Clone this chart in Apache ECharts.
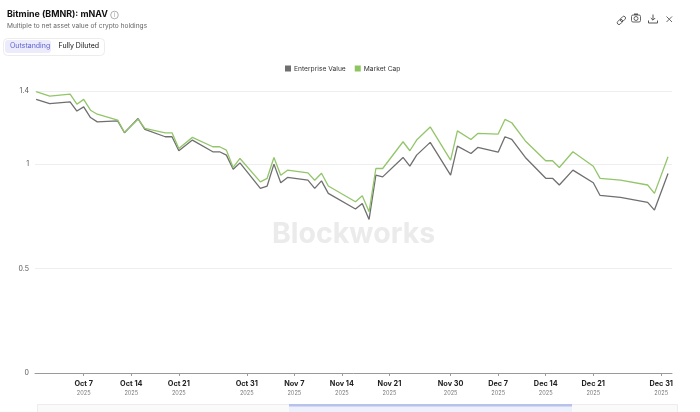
<!DOCTYPE html>
<html>
<head>
<meta charset="utf-8">
<title>Bitmine (BMNR): mNAV</title>
<script src="https://cdn.jsdelivr.net/npm/echarts@6/dist/echarts.min.js"></script>
<style>
  html, body { margin: 0; padding: 0; background: #fff; }
  #chart { width: 700px; height: 412px; }
</style>
</head>
<body>
<div id="chart"></div>
<script>
// vertices (daily points where the line turns)
var dates = ['2025-09-30','2025-10-02','2025-10-05','2025-10-06','2025-10-07','2025-10-08','2025-10-09','2025-10-12','2025-10-13','2025-10-15',
  '2025-10-16','2025-10-19','2025-10-20','2025-10-21','2025-10-23','2025-10-26','2025-10-27','2025-10-28','2025-10-29','2025-10-30',
  '2025-11-02','2025-11-03','2025-11-04','2025-11-05','2025-11-06','2025-11-09','2025-11-10','2025-11-11','2025-11-12','2025-11-16',
  '2025-11-17','2025-11-18','2025-11-19','2025-11-20','2025-11-23','2025-11-24','2025-11-25','2025-11-27','2025-11-30','2025-12-01',
  '2025-12-03','2025-12-04','2025-12-07','2025-12-08','2025-12-09','2025-12-11','2025-12-14','2025-12-15','2025-12-16','2025-12-18',
  '2025-12-21','2025-12-22','2025-12-25','2025-12-29','2025-12-30','2026-01-01'];

var enterpriseValue = [1.310,1.290,1.298,1.254,1.274,1.223,1.202,1.207,1.150,1.218,
  1.166,1.131,1.131,1.064,1.115,1.059,1.059,1.043,0.975,1.006,
  0.884,0.895,1.000,0.911,0.936,0.923,0.884,0.920,0.860,0.785,
  0.812,0.735,0.947,0.939,1.032,0.990,1.043,1.104,0.947,1.086,
  1.051,1.080,1.057,1.131,1.118,1.032,0.932,0.932,0.900,0.971,
  0.911,0.850,0.841,0.817,0.780,0.955];

var marketCap = [1.347,1.325,1.335,1.287,1.310,1.258,1.239,1.211,1.152,1.215,
  1.171,1.150,1.150,1.075,1.128,1.083,1.083,1.067,0.984,1.027,
  0.915,0.932,1.032,0.947,0.971,0.958,0.923,0.956,0.895,0.820,
  0.848,0.772,0.979,0.979,1.107,1.064,1.115,1.178,1.019,1.159,
  1.118,1.147,1.144,1.214,1.198,1.111,1.016,1.016,0.984,1.059,
  0.990,0.932,0.923,0.900,0.860,1.035];

var tickDates = ['2025-10-07','2025-10-14','2025-10-21','2025-10-31','2025-11-07','2025-11-14','2025-11-21','2025-11-30','2025-12-07','2025-12-14','2025-12-21','2025-12-31'];
var tickLabels = ['Oct 7','Oct 14','Oct 21','Oct 31','Nov 7','Nov 14','Nov 21','Nov 30','Dec 7','Dec 14','Dec 21','Dec 31'];
var tickYears = ['2025','2025','2025','2025','2025','2025','2025','2025','2025','2025','2025','2025'];

var yMax = 1.35;

var parse = function (s) { return +echarts.time.parse(s); };
var HOUR = 3600 * 1000;

var tickTimes = tickDates.map(parse);
var labelOf = {};
tickTimes.forEach(function (t, i) { labelOf[t] = '{a|' + tickLabels[i] + '}\n{b|' + tickYears[i] + '}'; });

var evData = dates.map(function (d, i) { return [parse(d), enterpriseValue[i]]; });
var mcData = dates.map(function (d, i) { return [parse(d), marketCap[i]]; });

var FONT = 'Inter, "Noto Sans", sans-serif';

var dom = document.getElementById('chart');
var myChart = echarts.init(dom, null, { renderer: 'canvas' });

var option = {
  animation: false,
  backgroundColor: '#fff',
  textStyle: { fontFamily: FONT },
  title: {
    left: 7, top: 10, itemGap: 4, padding: 0,
    text: 'Bitmine (BMNR): mNAV',
    textStyle: { fontSize: 8.9, fontWeight: 700, color: '#111', fontFamily: FONT },
    subtext: 'Multiple to net asset value of crypto holdings',
    subtextStyle: { fontSize: 6.6, color: '#666', fontFamily: FONT }
  },
  legend: {
    left: 285, top: 65, padding: 0,
    itemWidth: 6, itemHeight: 6, itemGap: 9, icon: 'rect',
    textStyle: { fontSize: 6.7, color: '#333', fontFamily: FONT, padding: [0, 0, 0, -2] },
    data: ['Enterprise Value', 'Market Cap']
  },
  grid: { left: 35, right: 28, top: 91, bottom: 39, outerBoundsMode: 'none' },
  xAxis: {
    type: 'value',
    min: parse(dates[0]) - 4 * HOUR,
    max: parse(dates[dates.length - 1]) + 14 * HOUR,
    axisLine: { show: true, lineStyle: { color: '#9a9a9a', width: 1 } },
    axisTick: { show: true, length: 3, lineStyle: { color: '#9a9a9a' }, customValues: tickTimes },
    splitLine: { show: false },
    axisLabel: {
      customValues: tickTimes,
      margin: 6,
      lineHeight: 10,
      formatter: function (v) { return labelOf[v] || ''; },
      rich: {
        a: { fontSize: 7.3, fontWeight: 700, color: '#222', fontFamily: FONT, lineHeight: 10 },
        b: { fontSize: 5.6, color: '#777', fontFamily: FONT, lineHeight: 9 }
      }
    }
  },
  yAxis: {
    type: 'value',
    min: 0, max: yMax, interval: 0.5,
    axisLine: { show: false },
    axisTick: { show: false },
    splitLine: { lineStyle: { color: '#eeeeee', width: 1 } },
    axisLabel: {
      fontSize: 7, color: '#555', margin: 6, fontFamily: FONT,
      formatter: function (v) { return String(parseFloat(v.toFixed(1))); }
    }
  },
  series: [
    {
      name: 'Enterprise Value', type: 'line', data: evData,
      showSymbol: false, symbol: 'none',
      color: '#6f6f6f',
      lineStyle: { width: 1.3, color: '#6f6f6f' }
    },
    {
      name: 'Market Cap', type: 'line', data: mcData,
      showSymbol: false, symbol: 'none',
      color: '#8dc55e',
      lineStyle: { width: 1.3, color: '#93c56a' }
    }
  ],
  graphic: [
    // info icon beside the title
    { type: 'circle', x: 114.5, y: 15, shape: { cx: 0, cy: 0, r: 3.8 }, style: { fill: 'none', stroke: '#9a9a9a', lineWidth: 0.8 } },
    { type: 'text', x: 114.5, y: 15.3, style: { text: 'i', fontSize: 5.5, fill: '#9a9a9a', fontFamily: FONT, align: 'center', verticalAlign: 'middle' } },
    // Outstanding / Fully Diluted switch
    { type: 'rect', left: 3, top: 38, shape: { width: 101, height: 17, r: 4 }, style: { fill: '#fff', stroke: '#ececec', lineWidth: 1 } },
    { type: 'rect', left: 5, top: 40, shape: { width: 46, height: 13, r: 3 }, style: { fill: '#ecebfb' } },
    { type: 'text', left: 10, top: 42.5, style: { text: 'Outstanding', fontSize: 7, fill: '#5b5fd0', fontFamily: FONT } },
    { type: 'text', left: 58.5, top: 42.5, style: { text: 'Fully Diluted', fontSize: 7, fill: '#111', fontFamily: FONT } },
    // toolbar icons (link, camera, download, close)
    { type: 'group', left: 613, top: 12, children: [
      { type: 'rect', x: 1, y: 3.5, rotation: Math.PI / 4, originX: 4, originY: 5, shape: { x: 0, y: 3, width: 6, height: 3.5, r: 1.7 }, style: { fill: 'none', stroke: '#555', lineWidth: 0.9 } },
      { type: 'rect', x: 4, y: 0.5, rotation: Math.PI / 4, originX: 4, originY: 5, shape: { x: 0, y: 3, width: 6, height: 3.5, r: 1.7 }, style: { fill: 'none', stroke: '#555', lineWidth: 0.9 } }
    ] },
    { type: 'group', left: 629, top: 12.5, children: [
      { type: 'rect', shape: { x: 0, y: 1.5, width: 9, height: 7, r: 1.5 }, style: { fill: 'none', stroke: '#555', lineWidth: 0.9 } },
      { type: 'rect', shape: { x: 2.5, y: 0, width: 4, height: 1.5 }, style: { fill: '#555' } },
      { type: 'circle', shape: { cx: 4.5, cy: 5, r: 2 }, style: { fill: 'none', stroke: '#555', lineWidth: 0.9 } }
    ] },
    { type: 'group', left: 646, top: 12, children: [
      { type: 'line', shape: { x1: 4.5, y1: 0, x2: 4.5, y2: 5.5 }, style: { stroke: '#555', lineWidth: 1 } },
      { type: 'polyline', shape: { points: [[2.3, 3.5], [4.5, 5.7], [6.7, 3.5]] }, style: { stroke: '#555', lineWidth: 1, fill: 'none' } },
      { type: 'polyline', shape: { points: [[0, 6], [0, 8.5], [9, 8.5], [9, 6]] }, style: { stroke: '#555', lineWidth: 1, fill: 'none' } }
    ] },
    { type: 'group', left: 664, top: 14, children: [
      { type: 'line', shape: { x1: 0, y1: 0, x2: 5.5, y2: 5.5 }, style: { stroke: '#555', lineWidth: 0.9 } },
      { type: 'line', shape: { x1: 5.5, y1: 0, x2: 0, y2: 5.5 }, style: { stroke: '#555', lineWidth: 0.9 } }
    ] },
    // watermark
    { type: 'text', left: 272, top: 220, z: -1, silent: true,
      style: { text: 'Blockworks', fontSize: 28.5, fontWeight: 700, fill: '#ebebeb', fontFamily: FONT } },
    // range strip cut off at the bottom
    { type: 'rect', left: 37, top: 404, shape: { width: 640, height: 10 }, style: { fill: '#fafafa', stroke: '#ededed', lineWidth: 1 } },
    { type: 'rect', left: 289, top: 404, shape: { width: 283, height: 10 }, style: { fill: '#eef1fb' } },
    { type: 'rect', left: 289, top: 404, shape: { width: 283, height: 2.5 }, style: { fill: '#b7c2ea' } }
  ]
};

myChart.setOption(option);
</script>
</body>
</html>
